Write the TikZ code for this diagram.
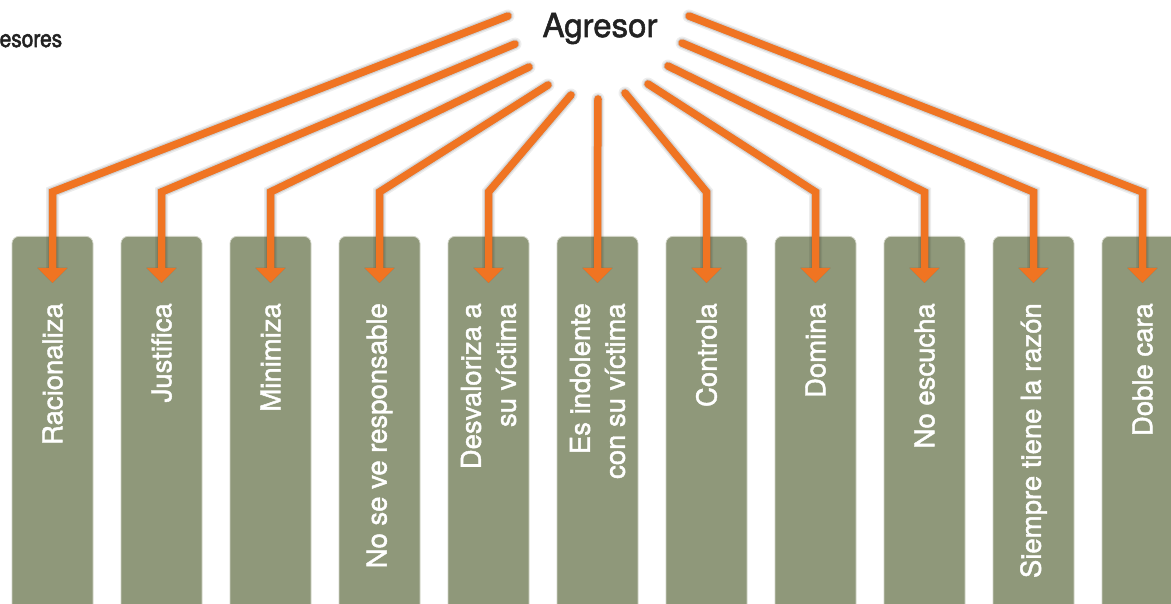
\documentclass[tikz,border=0pt]{standalone}
\usepackage{fontspec}
\setmainfont{TeX Gyre Heros}
\newfontfamily\labelfont{TeX Gyre Heros}[FakeBold=1.6]
\newfontfamily\capfont{TeX Gyre Heros}[FakeBold=2.2, FakeStretch=0.87]
\usetikzlibrary{arrows.meta}
\definecolor{sage}{RGB}{143,152,122}
\definecolor{sageedge}{RGB}{208,211,197}
\definecolor{flame}{RGB}{240,116,34}
\definecolor{ink}{RGB}{34,34,34}
\begin{document}
\begin{tikzpicture}[x=1pt,y=-1pt,
  box/.style={fill=sage, draw=sageedge, line width=0.8pt, rounded corners=7pt,
    minimum width=81pt, minimum height=400pt, inner sep=0pt, anchor=north},
  boxlabel/.style={rotate=90, anchor=east, text=white, align=right, inner sep=0pt,
    font=\labelfont\fontsize{27.5}{35}\selectfont},
  tip/.style={-{Triangle[width=29pt,length=15pt]}},
  link/.style={draw=flame, line width=7.5pt, line cap=round, tip},
  haze/.style={draw=black, opacity=#1, line cap=round, tip},
]
\useasboundingbox (0,0) rectangle (1171,604);

% title and corner caption
\node[anchor=base, text=ink, font=\labelfont\fontsize{33}{38}\selectfont] (agr) at (600,37) {Agresor};
\node[anchor=base west, text=ink, inner sep=0pt, font=\capfont\fontsize{24}{27}\selectfont] (cap) at (-0.5,47) {esores};

% the eleven columns
\foreach \i in {1,...,11}{
  \pgfmathsetmacro{\cx}{52.5+109*(\i-1)}
  \node[box] (b\i) at (\cx,236) {};
}

% start, bend and tip of each connector
\foreach \i/\sx/\sy in {1/508/16, 2/515/44, 3/529/67, 4/548/85, 5/571/95,
                        6/598/99, 7/625/93, 8/648/84, 9/668/66, 10/682/43, 11/689/16}{
  \pgfmathsetmacro{\cx}{52.5+109*(\i-1)}
  \coordinate (s\i) at (\sx,\sy);
  \coordinate (k\i) at (\cx,192);
  \coordinate (t\i) at (\cx,283);
}

% soft drop shadows under the connectors
\begin{scope}[xshift=-3pt, yshift=-3.5pt]
  \foreach \i in {1,...,11}{
    \draw[haze=0.07, line width=13pt] (s\i) -- (k\i) -- (t\i);
    \draw[haze=0.10, line width=10pt] (s\i) -- (k\i) -- (t\i);
    \draw[haze=0.14, line width=7.5pt] (s\i) -- (k\i) -- (t\i);
  }
\end{scope}

% connectors
\foreach \i in {1,...,11}{
  \draw[link] (s\i) -- (k\i) -- (t\i);
}

% column labels
\node[boxlabel] (l1) at (52.5,303) {Racionaliza};
\node[boxlabel] (l2) at (161.5,303) {Justifica};
\node[boxlabel] (l3) at (270.5,303) {Minimiza};
\node[boxlabel] (l4) at (379.5,303) {No se ve responsable};
\node[boxlabel] (l5) at (488.5,303) {Desvaloriza a\\su víctima};
\node[boxlabel] (l6) at (597.5,303) {Es indolente\\con su víctima};
\node[boxlabel] (l7) at (706.5,303) {Controla};
\node[boxlabel] (l8) at (815.5,303) {Domina};
\node[boxlabel] (l9) at (924.5,303) {No escucha};
\node[boxlabel] (l10) at (1033.5,303) {Siempre tiene la razón};
\node[boxlabel] (l11) at (1142.5,303) {Doble cara};
\end{tikzpicture}
\end{document}
